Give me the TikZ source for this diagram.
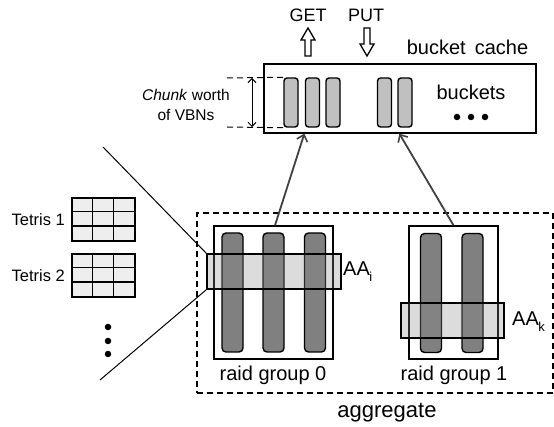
\documentclass[tikz,border=0pt]{standalone}
\usepackage{fontspec}
\setmainfont{Liberation Sans}
\usetikzlibrary{arrows.meta}
\definecolor{bucketgray}{HTML}{C0C0C0}
\definecolor{diskgray}{HTML}{808080}
\definecolor{bandgray}{HTML}{8C8C8C}
\definecolor{tetrisgray}{HTML}{EEEEEE}
\definecolor{linkgray}{HTML}{404040}
\tikzset{
  box/.style={draw, line width=1.3pt, inner sep=0pt, rectangle},
  bucket/.style={draw, line width=1.4pt, fill=bucketgray, rounded corners=3pt,
    minimum width=14pt, minimum height=49pt, inner sep=0pt},
  disk/.style={draw, line width=1.4pt, fill=diskgray, rounded corners=4pt,
    minimum width=21pt, minimum height=119pt, inner sep=0pt},
  band/.style={draw, line width=1.3pt, fill=bandgray, fill opacity=0.3,
    minimum height=35pt, inner sep=0pt},
  tetris/.style={draw, line width=1.2pt, fill=tetrisgray,
    minimum width=63pt, minimum height=43pt, inner sep=0pt},
  lbl/.style={inner sep=0pt, font=\fontsize{20}{22}\selectfont},
  small/.style={inner sep=0pt, font=\fontsize{15.5}{20}\selectfont},
  link/.style={draw=linkgray, line width=1.8pt,
    -{Straight Barb[length=6pt,width=11pt,line width=1.6pt]}},
  hollow/.style={draw, line width=1.3pt, fill=white, line join=miter},
}
% hollow block arrow: tip at the origin, pointing up (rotate for other directions)
\newcommand{\blockarrow}{(0,0) -- (7,12) -- (3,12) -- (3,28) -- (-3,28) -- (-3,12) -- (-7,12) -- cycle}
\begin{document}
\begin{tikzpicture}[x=1pt,y=-1pt]
\useasboundingbox (0,0) rectangle (554,427);

% bucket cache
\node[box, minimum width=272pt, minimum height=69pt] (cache) at (400,98.5) {};
\node[bucket] (b1) at (291,102.5) {};
\node[bucket] (b2) at (312.5,102.5) {};
\node[bucket] (b3) at (333,102.5) {};
\node[bucket] (b4) at (384.5,102.5) {};
\node[bucket] (b5) at (405,102.5) {};
\node[lbl] (bktlbl) at (471,92) {buckets};
\foreach \x [count=\i] in {457,471,485}
  \node[circle, fill, inner sep=0pt, minimum size=6.5pt] (bd\i) at (\x,117) {};
\node[lbl] (cachelbl) at (467.5,47) {bucket\hspace{9pt}cache};

% chunk height marker
\coordinate (ctop) at (227,78);
\coordinate (cbot) at (227,127);
\draw[dashed, line width=1pt, dash pattern=on 6pt off 4pt] (ctop) -- (b1.north west);
\draw[dashed, line width=1pt, dash pattern=on 6pt off 4pt] (cbot) -- (b1.south west);
\coordinate (mtop) at (252,78);
\coordinate (mbot) at (252,127);
\draw[line width=1pt, {Straight Barb[length=4pt]}-{Straight Barb[length=4pt]}] (mtop) -- (mbot);
\node[small, align=center] (chunk) at (186,105) {\textit{Chunk} worth\\of VBNs};

% GET / PUT
\node[lbl, font=\fontsize{18}{20}\selectfont] (getlbl) at (308,15) {GET};
\node[lbl, font=\fontsize{18}{20}\selectfont] (putlbl) at (366,15) {PUT};
\draw[hollow, shift={(308,28)}] \blockarrow;
\draw[hollow, shift={(367,56)}, yscale=-1] \blockarrow;

% aggregate
\node[box, dashed, dash pattern=on 6pt off 4pt, minimum width=356pt, minimum height=180pt] (aggr) at (375,303) {};
\node[lbl, font=\fontsize{22}{24}\selectfont] (aggrlbl) at (387,413) {aggregate};

% raid group 0
\node[box, minimum width=119pt, minimum height=133pt] (rg0) at (273.5,292.5) {};
\node[disk] (d01) at (232.5,292.5) {};
\node[disk] (d02) at (273.5,292.5) {};
\node[disk] (d03) at (315,292.5) {};
\node[band, minimum width=134pt] (aai) at (274,271.5) {};
\node[lbl, anchor=west] (aailbl) at (343,272) {AA\kern-0.5pt\raisebox{-6pt}{\fontsize{13}{13}\selectfont i}};
\node[lbl] (rg0lbl) at (273,375) {raid group 0};

% raid group 1
\node[box, minimum width=89pt, minimum height=133pt] (rg1) at (453.5,292.5) {};
\node[disk] (d11) at (431,293) {};
\node[disk] (d12) at (472.5,293) {};
\node[band, minimum width=103pt] (aak) at (452.5,320.5) {};
\node[lbl, anchor=west] (aaklbl) at (512,322) {AA\kern-0.5pt\raisebox{-6pt}{\fontsize{13}{13}\selectfont k}};
\node[lbl] (rg1lbl) at (454,375) {raid group 1};

% links to the cache
\draw[link] ([xshift=1.5pt]rg0.north) -- ([xshift=41pt]cache.south west);
\draw[link] (rg1.north) -- ([xshift=136pt]cache.south west);

% tetris grids
\foreach \n/\y in {1/219.5,2/275.5}{
  \node[tetris] (t\n) at (103.5,\y) {};
  \draw[line width=1.2pt] ([xshift=21pt]t\n.north west) -- ([xshift=21pt]t\n.south west)
    ([xshift=42pt]t\n.north west) -- ([xshift=42pt]t\n.south west)
    ([yshift=-14.33pt]t\n.north west) -- ([yshift=-14.33pt]t\n.north east)
    ([yshift=-28.67pt]t\n.north west) -- ([yshift=-28.67pt]t\n.north east);
  \node[small, anchor=east, font=\fontsize{16.5}{20}\selectfont] (tl\n) at (65,\y) {Tetris \n};
}
\foreach \y [count=\i] in {327,341,354}
  \node[circle, fill, inner sep=0pt, minimum size=6.5pt] (vd\i) at (108,\y) {};

% zoom lines from the allocation area
\coordinate (zt) at (103,147);
\coordinate (zb) at (100,380);
\draw[line width=1pt] (zt) -- (aai.north west);
\draw[line width=1pt] (zb) -- (aai.south west);
\end{tikzpicture}
\end{document}
